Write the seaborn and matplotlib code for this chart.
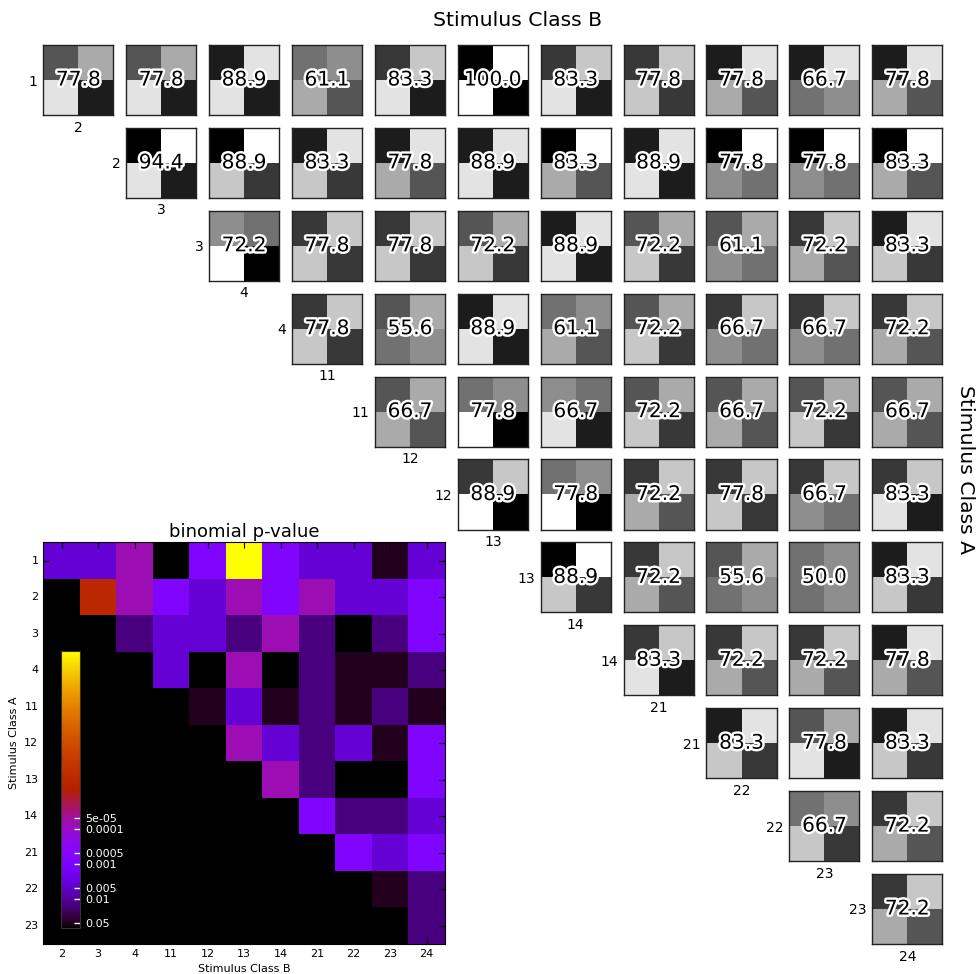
import numpy as np
import matplotlib
matplotlib.use("Agg")
import matplotlib.pyplot as plt
import matplotlib.patheffects as pe
import seaborn as sns

# ---------------- data ----------------
classes_a = ['1', '2', '3', '4', '11', '12', '13', '14', '21', '22', '23']
classes_b = ['2', '3', '4', '11', '12', '13', '14', '21', '22', '23', '24']
trials_per_class = 9

# correct counts for class A (top-left cell) and class B (bottom-right cell),
# one list per row (class A), columns from the diagonal to class 24
correct_a = [
    [6, 6, 8, 5, 7, 9, 7, 7, 8, 8, 8],
    [9, 9, 8, 8, 8, 9, 8, 9, 9, 9],
    [4, 7, 7, 6, 8, 6, 6, 7, 8],
    [7, 6, 8, 5, 6, 7, 7, 7],
    [6, 5, 4, 6, 6, 6, 6],
    [7, 5, 7, 7, 7, 7],
    [9, 7, 6, 5, 8],
    [7, 7, 7, 8],
    [8, 6, 8],
    [5, 7],
    [7],
]
correct_b = [
    [8, 8, 8, 6, 8, 9, 8, 7, 6, 4, 6],
    [8, 7, 7, 6, 8, 6, 8, 5, 5, 6],
    [9, 7, 7, 7, 8, 7, 5, 6, 7],
    [7, 4, 8, 6, 7, 5, 5, 6],
    [6, 9, 8, 7, 6, 7, 6],
    [9, 9, 6, 7, 5, 8],
    [7, 6, 4, 4, 7],
    [8, 6, 6, 6],
    [7, 8, 7],
    [7, 6],
    [6],
]

# binomial p-values, one list per row
pvalues = [
    [3.8e-3, 3.8e-3, 7.3e-5, 0.12, 6.6e-4, 1e-10, 6.6e-4, 3.8e-3, 3.8e-3, 0.048, 3.8e-3],
    [3.8e-6, 7.3e-5, 6.6e-4, 3.8e-3, 7.3e-5, 6.6e-4, 7.3e-5, 3.8e-3, 3.8e-3, 6.6e-4],
    [0.0154, 3.8e-3, 3.8e-3, 0.0154, 7.3e-5, 0.0154, 0.12, 0.0154, 6.6e-4],
    [3.8e-3, 0.24, 7.3e-5, 0.12, 0.0154, 0.048, 0.048, 0.0154],
    [0.048, 3.8e-3, 0.048, 0.0154, 0.048, 0.0154, 0.048],
    [7.3e-5, 3.8e-3, 0.0154, 3.8e-3, 0.048, 6.6e-4],
    [7.3e-5, 0.0154, 0.24, 0.41, 6.6e-4],
    [6.6e-4, 0.0154, 0.0154, 3.8e-3],
    [6.6e-4, 3.8e-3, 6.6e-4],
    [0.048, 0.0154],
    [0.0154],
]
cbar_ticks = [0.05, 0.01, 0.005, 0.001, 0.0005, 0.0001, 5e-05]
cbar_ticklabels = ['0.05', '0.01', '0.005', '0.001', '0.0005', '0.0001', '5e-05']

# ---------------- figure ----------------
fig = plt.figure(figsize=(9.77, 9.74), dpi=100)
n = len(classes_a)
gs = fig.add_gridspec(n, n, left=0.0443, right=0.9645, bottom=0.0308, top=0.9538,
                      wspace=0.184, hspace=0.184)

for i in range(n):
    for k, (ca, cb) in enumerate(zip(correct_a[i], correct_b[i])):
        j = i + k
        ax = fig.add_subplot(gs[i, j])
        cm = np.array([[ca, trials_per_class - ca],
                       [trials_per_class - cb, cb]])
        sns.heatmap(cm, ax=ax, cmap='gray_r', vmin=0, vmax=trials_per_class,
                    cbar=False, xticklabels=False, yticklabels=False)
        for sp in ax.spines.values():
            sp.set_visible(True)
            sp.set_color('#222222')
            sp.set_linewidth(1.0)
        acc = 100.0 * (ca + cb) / (2 * trials_per_class)
        ax.text(1, 1, '%.1f' % acc, ha='center', va='center', fontsize=14.5,
                color='black',
                path_effects=[pe.withStroke(linewidth=3.5, foreground='white')])
        if k == 0:
            ax.set_yticks([1])
            ax.set_yticklabels([classes_a[i]], rotation=0, fontsize=10)
            ax.set_xticks([1])
            ax.set_xticklabels([classes_b[j]], fontsize=10)
            ax.tick_params(length=0, pad=4)

fig.text(0.5297, 0.979, 'Stimulus Class B', ha='center', va='center', fontsize=14.7)
fig.text(0.9887, 0.5175, 'Stimulus Class A', ha='center', va='center',
         fontsize=14.7, rotation=270)

# ---------------- p-value heatmap ----------------
P = np.full((n, n), np.nan)
for i in range(n):
    for k, p in enumerate(pvalues[i]):
        P[i, i + k] = p

axh = fig.add_subplot(gs[6:, :5])
cax = fig.add_axes([61 / 977, 1 - 928.3 / 974, 19 / 977, 277.6 / 974])
sns.heatmap(-np.log10(P), ax=axh, cmap='gnuplot', vmin=1.155, vmax=9.08,
            cbar_ax=cax, xticklabels=classes_b, yticklabels=classes_a,
            cbar_kws={'ticks': -np.log10(cbar_ticks)})
axh.set_facecolor('black')
for sp in axh.spines.values():
    sp.set_visible(True)
    sp.set_color('black')
axh.set_yticklabels(classes_a, rotation=0, fontsize=8)
axh.set_xticklabels(classes_b, rotation=0, fontsize=8)
axh.tick_params(direction='in', top=True, right=True, length=4, color='black',
                labeltop=False, labelright=False)
axh.set_xlabel('Stimulus Class B', fontsize=8)
axh.set_ylabel('Stimulus Class A', fontsize=8)
axh.set_title('binomial p-value', fontsize=13, pad=4)

cbar = axh.collections[0].colorbar
cbar.outline.set_linewidth(0.8)
cbar.outline.set_edgecolor('#333333')
cax.set_yticklabels(cbar_ticklabels)
cax.tick_params(direction='in', colors='white', labelcolor='white', length=4,
                labelsize=8, width=1)

fig.savefig('out.png', dpi=100)
